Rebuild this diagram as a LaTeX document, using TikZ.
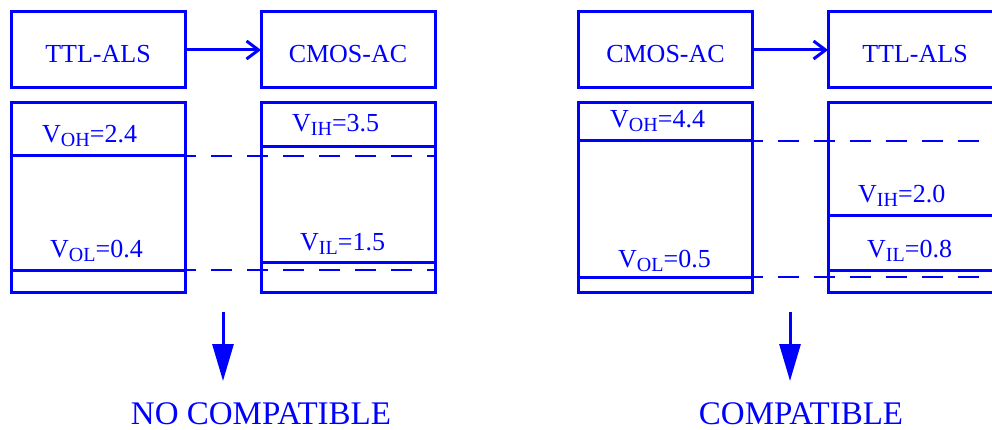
\documentclass[tikz,border=0pt]{standalone}
\usepackage{fontspec}
\setmainfont{Liberation Serif}
\usetikzlibrary{arrows.meta}
\definecolor{bl}{RGB}{0,0,255}
\newcommand{\vlab}[3]{#1\raisebox{-4pt}{\fontsize{20}{20}\selectfont #2}#3}
\begin{document}
\begin{tikzpicture}[x=1pt,y=-1pt,
  box/.style={draw=bl, line width=3pt, minimum width=174pt, minimum height=76pt, inner sep=0pt, outer sep=0pt},
  lbox/.style={box, minimum height=189pt},
  title/.style={font=\fontsize{26}{26}\selectfont, text=bl, anchor=base, inner sep=0pt},
  vl/.style={font=\fontsize{26}{26}\selectfont, text=bl, anchor=base west, inner sep=0pt},
  result/.style={font=\fontsize{33}{33}\selectfont, text=bl, anchor=base, inner sep=0pt},
  level/.style={draw=bl, line width=3pt},
  dashln/.style={draw=bl, line width=2pt, dash pattern=on 21pt off 15pt},
  link/.style={draw=bl, line width=3pt, -{Straight Barb[length=12pt,width=18pt,line width=3pt]}},
  down/.style={draw=bl, line width=3pt, -{Triangle[length=37pt,width=21pt]}}]
\clip (0,0) rectangle (992,430);
\useasboundingbox (0,0) rectangle (992,430);
% ---------------- left group ----------------
\node[box] (a1) at (98,50) {};
\node[box] (a2) at (348,50) {};
\node[title] (ta1) at (98,63) {TTL-ALS};
\node[title] (ta2) at (348,63) {CMOS-AC};
\draw[link] (a1.east) -- (a2.west);
\node[lbox] (la) at (98,197.5) {};
\node[lbox] (ra) at (348,197.5) {};
\coordinate (ohA) at (0,156);
\coordinate (olA) at (0,270);
\coordinate (ihA) at (0,147);
\coordinate (ilA) at (0,262);
\draw[level] (la.west |- ohA) -- (la.east |- ohA);
\draw[level] (la.west |- olA) -- (la.east |- olA);
\draw[level] (ra.west |- ihA) -- (ra.east |- ihA);
\draw[level] (ra.west |- ilA) -- (ra.east |- ilA);
\draw[dashln, dash phase=10pt] (la.east |- ohA) -- (ra.east |- ohA);
\draw[dashln, dash phase=10pt] (la.east |- olA) -- (ra.east |- olA);
\node[vl] (voha) at (42,143) {\vlab{V}{OH}{=2.4}};
\node[vl] (vola) at (50,258) {\vlab{V}{OL}{=0.4}};
\node[vl] (viha) at (292,132) {\vlab{V}{IH}{=3.5}};
\node[vl] (vila) at (300,251) {\vlab{V}{IL}{=1.5}};
\coordinate (sa) at (223,312);
\coordinate (ea) at (223,381);
\node[result] (resa) at (261,424) {NO COMPATIBLE};
\draw[down] (sa) -- (ea);
% ---------------- right group ----------------
\node[box] (b1) at (665.5,50) {};
\node[box] (b2) at (915,50) {};
\node[title] (tb1) at (665.5,63) {CMOS-AC};
\node[title] (tb2) at (915,63) {TTL-ALS};
\draw[link] (b1.east) -- (b2.west);
\node[lbox] (lb) at (665.5,197.5) {};
\node[lbox] (rb) at (915,197.5) {};
\coordinate (ohB) at (0,141);
\coordinate (olB) at (0,277);
\coordinate (ihB) at (0,216);
\coordinate (ilB) at (0,270);
\draw[level] (lb.west |- ohB) -- (lb.east |- ohB);
\draw[level] (lb.west |- olB) -- (lb.east |- olB);
\draw[level] (rb.west |- ihB) -- (rb.east |- ihB);
\draw[level] (rb.west |- ilB) -- (rb.east |- ilB);
\draw[dashln, dash phase=11pt] (lb.east |- ohB) -- (rb.east |- ohB);
\draw[dashln, dash phase=11pt] (lb.east |- olB) -- (rb.east |- olB);
\node[vl] (vohb) at (610,128) {\vlab{V}{OH}{=4.4}};
\node[vl] (volb) at (618,267) {\vlab{V}{OL}{=0.5}};
\node[vl] (vihb) at (858,203) {\vlab{V}{IH}{=2.0}};
\node[vl] (vilb) at (867,257) {\vlab{V}{IL}{=0.8}};
\coordinate (sb) at (790,312);
\coordinate (eb) at (790,381);
\node[result] (resb) at (801,424) {COMPATIBLE};
\draw[down] (sb) -- (eb);
\end{tikzpicture}
\end{document}
